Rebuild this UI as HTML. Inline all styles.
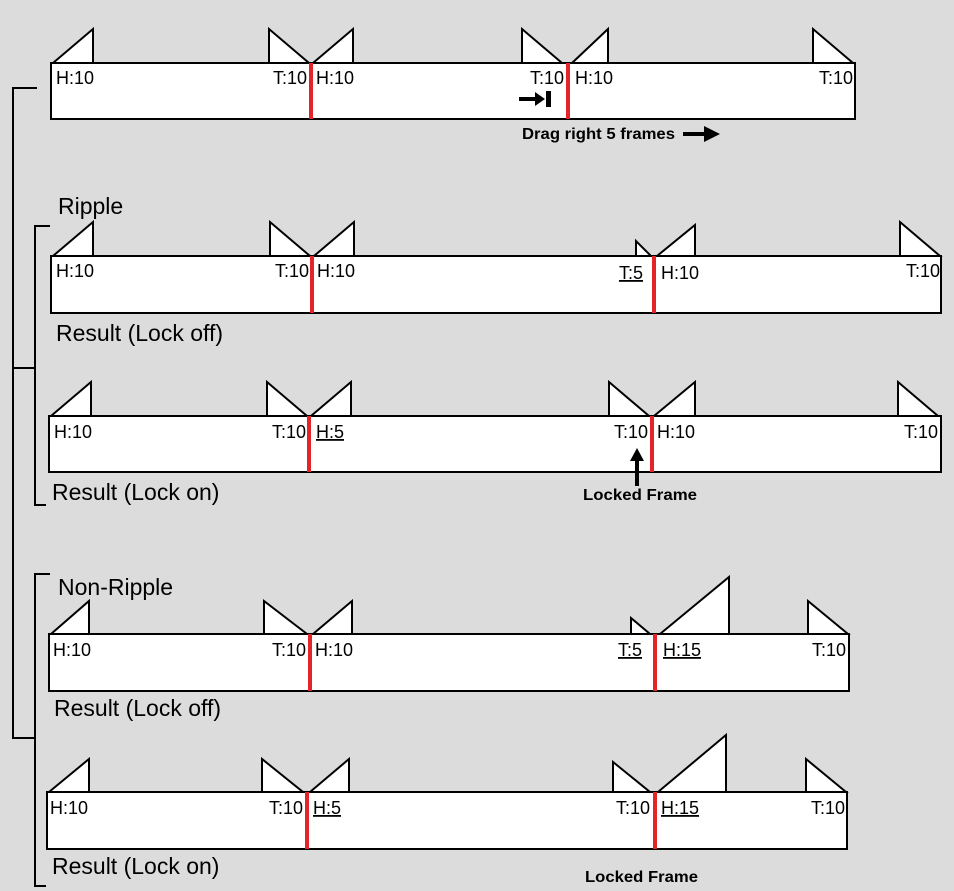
<!DOCTYPE html>
<html><head><meta charset="utf-8"><style>
html,body{margin:0;padding:0;background:#dcdcdc;}
svg{display:block;}
text{font-family:"Liberation Sans",Arial,sans-serif;fill:#000;}
.l{font-size:18px;}
.b{font-size:23px;}
.s{font-size:16px;font-weight:bold;}
</style></head><body>
<svg width="954" height="891" viewBox="0 0 954 891" xmlns="http://www.w3.org/2000/svg">
<rect width="954" height="891" fill="#dcdcdc"/>
<g fill="none" stroke="#000" stroke-width="2">
<polyline points="37,88 13,88 13,738 35,738"/>
<line x1="13" y1="368" x2="35" y2="368"/>
<polyline points="50,226 35,226 35,505 46,505"/>
<polyline points="50,574 35,574 35,886 46,886"/>
</g>
<g fill="#fff" stroke="#000" stroke-width="2">
<polygon points="53,63 93,29 93,63"/>
<polygon points="269,29 269,63 309,63"/>
<polygon points="313,63 353,29 353,63"/>
<polygon points="522,29 522,63 562,63"/>
<polygon points="572,63 608,29 608,63"/>
<polygon points="813,29 813,63 853,63"/>
<rect x="51" y="63" width="804" height="56"/>
<polygon points="53,256 93,222 93,256"/>
<polygon points="270,222 270,256 310,256"/>
<polygon points="314,256 354,222 354,256"/>
<polygon points="636,241 636,256 651,256"/>
<polygon points="657,256 695,225 695,256"/>
<polygon points="900,222 900,256 940,256"/>
<rect x="51" y="256" width="890" height="57"/>
<polygon points="51,416 91,382 91,416"/>
<polygon points="267,382 267,416 307,416"/>
<polygon points="311,416 351,382 351,416"/>
<polygon points="609,382 609,416 649,416"/>
<polygon points="654,416 695,382 695,416"/>
<polygon points="898,382 898,416 938,416"/>
<rect x="49" y="416" width="892" height="56"/>
<polygon points="51,634 89,601 89,634"/>
<polygon points="264,601 264,634 307,634"/>
<polygon points="313,634 352,601 352,634"/>
<polygon points="631,618 631,634 650,634"/>
<polygon points="660,634 729,577 729,634"/>
<polygon points="808,601 808,634 848,634"/>
<rect x="49" y="634" width="800" height="57"/>
<polygon points="49,792 89,759 89,792"/>
<polygon points="262,759 262,792 303,792"/>
<polygon points="310,792 349,759 349,792"/>
<polygon points="613,762 613,792 650,792"/>
<polygon points="658,792 726,735 726,792"/>
<polygon points="806,759 806,792 846,792"/>
<rect x="47" y="792" width="800" height="57"/>
</g>
<g stroke="#e5242a" stroke-width="4">
<line x1="311" y1="63" x2="311" y2="119"/>
<line x1="568" y1="63" x2="568" y2="119"/>
<line x1="312" y1="256" x2="312" y2="313"/>
<line x1="654" y1="256" x2="654" y2="313"/>
<line x1="309" y1="416" x2="309" y2="472"/>
<line x1="652" y1="416" x2="652" y2="472"/>
<line x1="310" y1="634" x2="310" y2="691"/>
<line x1="655" y1="634" x2="655" y2="691"/>
<line x1="307" y1="792" x2="307" y2="849"/>
<line x1="655" y1="792" x2="655" y2="849"/>
</g>
<g>
<text x="56" y="84" class="l">H:10</text>
<text x="307" y="84" text-anchor="end" class="l">T:10</text>
<text x="316" y="84" class="l">H:10</text>
<text x="564" y="84" text-anchor="end" class="l">T:10</text>
<text x="575" y="84" class="l">H:10</text>
<text x="853" y="84" text-anchor="end" class="l">T:10</text>

<text x="56" y="277" class="l">H:10</text>
<text x="309" y="277" text-anchor="end" class="l">T:10</text>
<text x="317" y="277" class="l">H:10</text>
<text x="643" y="279" text-anchor="end" class="l" text-decoration="underline">T:5</text>
<text x="661" y="279" class="l">H:10</text>
<text x="940" y="277" text-anchor="end" class="l">T:10</text>

<text x="54" y="438" class="l">H:10</text>
<text x="306" y="438" text-anchor="end" class="l">T:10</text>
<text x="316" y="438" class="l" text-decoration="underline">H:5</text>
<text x="648" y="438" text-anchor="end" class="l">T:10</text>
<text x="657" y="438" class="l">H:10</text>
<text x="938" y="438" text-anchor="end" class="l">T:10</text>

<text x="53" y="656" class="l">H:10</text>
<text x="306" y="656" text-anchor="end" class="l">T:10</text>
<text x="315" y="656" class="l">H:10</text>
<text x="642" y="656" text-anchor="end" class="l" text-decoration="underline">T:5</text>
<text x="663" y="656" class="l" text-decoration="underline">H:15</text>
<text x="846" y="656" text-anchor="end" class="l">T:10</text>

<text x="50" y="814" class="l">H:10</text>
<text x="303" y="814" text-anchor="end" class="l">T:10</text>
<text x="313" y="814" class="l" text-decoration="underline">H:5</text>
<text x="650" y="814" text-anchor="end" class="l">T:10</text>
<text x="661" y="814" class="l" text-decoration="underline">H:15</text>
<text x="845" y="814" text-anchor="end" class="l">T:10</text>
</g>
<text x="58" y="214" class="b">Ripple</text>
<text x="56" y="341" class="b">Result (Lock off)</text>
<text x="52" y="500" class="b">Result (Lock on)</text>
<text x="58" y="595" class="b">Non-Ripple</text>
<text x="54" y="716" class="b">Result (Lock off)</text>
<text x="52" y="874" class="b">Result (Lock on)</text>
<text x="522" y="139" class="s" textLength="153" lengthAdjust="spacingAndGlyphs">Drag right 5 frames</text>
<text x="583" y="500" class="s" textLength="114" lengthAdjust="spacingAndGlyphs">Locked Frame</text>
<text x="585" y="882" class="s" textLength="113" lengthAdjust="spacingAndGlyphs">Locked Frame</text>
<g fill="#000" stroke="none">
<rect x="683" y="132" width="24" height="4"/>
<polygon points="704,126 720,134 704,142"/>
<rect x="519" y="97" width="20" height="4"/>
<polygon points="535,92 545,99 535,106"/>
<rect x="546" y="91" width="5" height="16"/>
<rect x="635" y="458" width="4" height="28"/>
<polygon points="630,461 637,448 644,461"/>
</g>
</svg>
</body></html>
